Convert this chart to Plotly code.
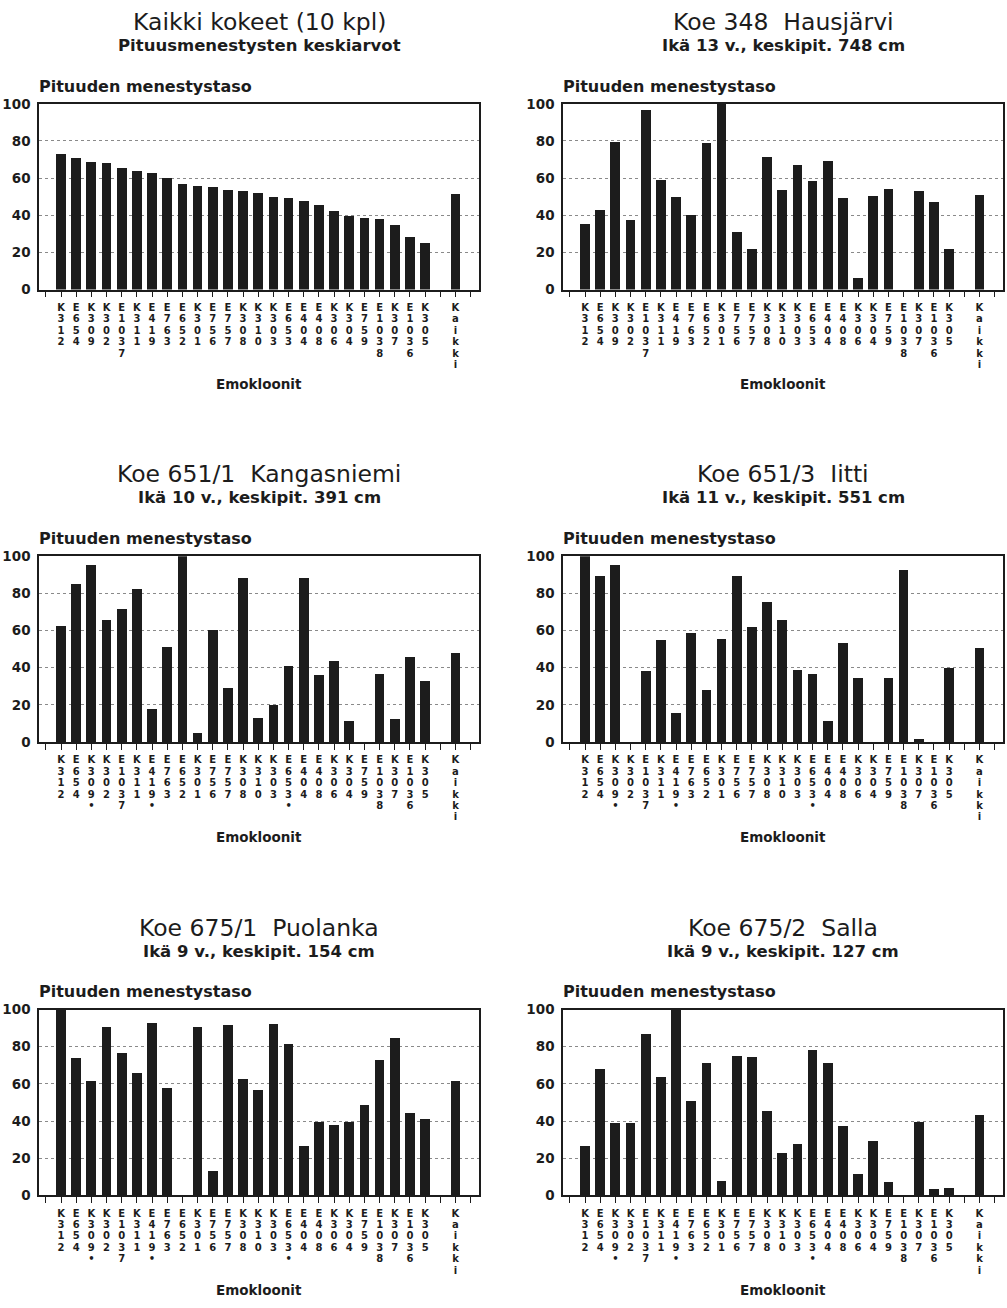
import plotly.graph_objects as go

# Clone order (sorted by the overall mean), shared by every panel
CLONES = ["K312", "E654", "K309", "K302", "E1037", "K311", "E419", "E763", "E652", "K301",
          "E756", "E757", "K308", "K310", "K303", "E653", "E404", "E408", "K306", "K304",
          "E759", "E1038", "K307", "E1036", "K305"]
TOTAL_LABEL = "Kaikki"
MARKED = ["K309", "E419", "E653"]          # clones flagged with a dot in the single trials

TITLES = ["Kaikki kokeet (10 kpl)",
          "Koe 348\u00a0\u00a0Hausjärvi",
          "Koe 651/1\u00a0\u00a0Kangasniemi",
          "Koe 651/3\u00a0\u00a0Iitti",
          "Koe 675/1\u00a0\u00a0Puolanka",
          "Koe 675/2\u00a0\u00a0Salla"]
SUBTITLES = ["Pituusmenestysten keskiarvot",
             "Ikä 13 v., keskipit. 748 cm",
             "Ikä 10 v., keskipit. 391 cm",
             "Ikä 11 v., keskipit. 551 cm",
             "Ikä 9 v., keskipit. 154 cm",
             "Ikä 9 v., keskipit. 127 cm"]
SHOW_MARKS = [False, False, True, True, True, True]

# Height performance level per clone (None = clone not in the trial)
ALL_TRIALS = [73.2, 70.7, 68.8, 68.1, 65.4, 64.0, 62.8, 60.1, 56.7, 56.0, 55.3, 53.5, 53.2,
              52.1, 50.0, 49.3, 47.5, 45.7, 42.6, 39.9, 38.7, 38.3, 35.1, 28.5, 25.2]
HAUSJARVI = [35.2, 42.8, 79.5, 37.7, 96.6, 59.3, 49.7, 40.4, 78.9, 100, 31.0, 21.9, 71.3,
             53.6, 67.1, 58.6, 69.4, 49.4, 6.5, 50.6, 54.3, None, 53.3, 47.4, 22.1]
KANGASNIEMI = [62.5, 84.8, 94.9, 65.4, 71.2, 82.3, 17.7, 51.1, 100, 4.6, 60.2, 28.8, 88.2,
               12.9, 20.0, 41.0, 88.2, 35.7, 43.5, 11.1, None, 36.4, 12.4, 45.8, 32.5]
IITTI = [100, 89.4, 95.2, None, 38.3, 54.8, 15.5, 58.5, 27.7, 55.5, 89.4, 61.7, 75.4,
         65.4, 38.5, 36.7, 11.0, 53.4, 34.5, None, 34.1, 92.6, 1.4, None, 39.6]
PUOLANKA = [100, 74.0, 61.7, 91.1, 76.6, 66.0, 92.9, 57.8, None, 91.0, 13.5, 91.7, 62.6,
            56.7, 92.4, 81.7, 26.8, 39.9, 38.3, 39.9, 49.1, 73.2, 84.9, 44.7, 41.1]
SALLA = [27.0, 68.0, 39.0, 39.0, 87.0, 64.0, 100, 51.0, 71.5, 8.0, 75.5, 74.6, 45.6,
         23.0, 28.0, 78.5, 71.6, 37.6, 11.7, 29.4, 7.6, None, 39.5, 3.4, 4.0]
TOTALS = [51.8, 50.8, 47.5, 50.7, 62.0, 43.3]

SERIES = [ALL_TRIALS, HAUSJARVI, KANGASNIEMI, IITTI, PUOLANKA, SALLA]

Y_TITLE = "Pituuden menestystaso"
X_TITLE = "Emokloonit"
Y_TICKS = [0, 20, 40, 60, 80, 100]

# ---- layout geometry (pixels) ----
W, H = 1007, 1308
COL_X = [(39, 479), (563, 1003)]
ROW_TOP = [97, 555, 1014]
PLOT_H = 188
ROW0_PX, ROW_STEP_PX = 19, 11.6     # vertical character rows of the clone labels
LBL_TOP, LBL_BOT = 10, 84           # label strip below each plot, px from the axis
N_SLOTS = 29                          # tick slots 0..28
CLONE_SLOTS = list(range(1, len(CLONES) + 1))
TOTAL_SLOT = len(CLONES) + 2
X_RANGE = [-0.45, N_SLOTS - 0.45]

INK = "#1c1c1c"
FONT = "DejaVu Sans"


def py(p):
    return 1 - p / H


fig = go.Figure()
annotations = []
n = len(SERIES)

for k, values in enumerate(SERIES):
    col, row = k % 2, k // 2
    x0, x1 = COL_X[col]
    top = ROW_TOP[row]
    bot = top + PLOT_H

    # label strip axes: 1..6, bar plot axes: 7..12 (drawn on top)
    li, mi = k + 1, k + 1 + n
    lx, ly = f"x{li}", f"y{li}"
    xa, ya = f"x{mi}", f"y{mi}"
    lname = "" if li == 1 else str(li)

    # vertical, one-character-per-line clone labels in a strip under the axis
    tx, ty, tt = [], [], []
    names = CLONES + [TOTAL_LABEL]
    slots = CLONE_SLOTS + [TOTAL_SLOT]
    for name, s in zip(names, slots):
        chars = list(name)
        if SHOW_MARKS[k] and name in MARKED:
            chars.append("•")
        for r, ch in enumerate(chars):
            tx.append(s)
            ty.append(-(ROW0_PX + r * ROW_STEP_PX))
            tt.append(ch)
    fig.add_trace(go.Scatter(
        x=tx, y=ty, text=tt, mode="text", textposition="middle center",
        textfont=dict(family=FONT, size=10, color=INK, weight="bold"),
        cliponaxis=False, xaxis=lx, yaxis=ly, showlegend=False, hoverinfo="skip",
    ))

    fig.add_trace(go.Bar(
        x=CLONE_SLOTS + [TOTAL_SLOT],
        y=list(values) + [TOTALS[k]],
        width=0.64,
        marker=dict(color=INK, line=dict(width=0)),
        xaxis=xa, yaxis=ya, showlegend=False, hoverinfo="skip",
    ))

    fig.layout[f"xaxis{lname}"] = dict(
        domain=[x0 / W, x1 / W], anchor=ly, range=X_RANGE, visible=False,
        fixedrange=True,
    )
    fig.layout[f"yaxis{lname}"] = dict(
        domain=[py(bot + LBL_BOT), py(bot + LBL_TOP)], anchor=lx,
        range=[-LBL_BOT, -LBL_TOP], visible=False, fixedrange=True,
    )
    fig.layout[f"xaxis{mi}"] = dict(
        domain=[x0 / W, x1 / W], anchor=ya, range=X_RANGE,
        tickvals=list(range(N_SLOTS)), showticklabels=False,
        ticks="outside", ticklen=6, tickwidth=1.3, tickcolor=INK,
        showline=True, mirror=True, linecolor=INK, linewidth=1.5,
        showgrid=False, zeroline=False, fixedrange=True,
    )
    fig.layout[f"yaxis{mi}"] = dict(
        domain=[py(bot), py(top)], anchor=xa,
        range=[0, 100], tickvals=Y_TICKS, ticks="",
        tickfont=dict(family=FONT, size=13.5, color=INK, weight="bold"),
        ticklabelstandoff=4,
        showline=True, mirror=True, linecolor=INK, linewidth=1.5,
        showgrid=True, gridcolor="#8a8a8a", griddash="dot", gridwidth=1,
        zeroline=False, fixedrange=True,
    )

    cx = (x0 + x1) / 2 / W
    annotations += [
        dict(text=TITLES[k], x=cx, y=py(top - 83), xref="paper", yref="paper",
             xanchor="center", yanchor="middle", showarrow=False,
             font=dict(family=FONT, size=23.5, color=INK)),
        dict(text=SUBTITLES[k], x=cx, y=py(top - 59), xref="paper", yref="paper",
             xanchor="center", yanchor="middle", showarrow=False,
             font=dict(family=FONT, size=16.5, color=INK, weight="bold")),
        dict(text=Y_TITLE, x=(x0 - 2) / W, y=py(top - 18), xref="paper", yref="paper",
             xanchor="left", yanchor="middle", showarrow=False,
             font=dict(family=FONT, size=16, color=INK, weight="bold")),
        dict(text=X_TITLE, x=cx, y=py(bot + 96), xref="paper", yref="paper",
             xanchor="center", yanchor="middle", showarrow=False,
             font=dict(family=FONT, size=13.5, color=INK, weight="bold")),
    ]

fig.update_layout(
    width=W, height=H, margin=dict(l=0, r=0, t=0, b=0),
    paper_bgcolor="white", plot_bgcolor="rgba(0,0,0,0)",
    annotations=annotations, bargap=0,
)

fig.write_html("out.html")
